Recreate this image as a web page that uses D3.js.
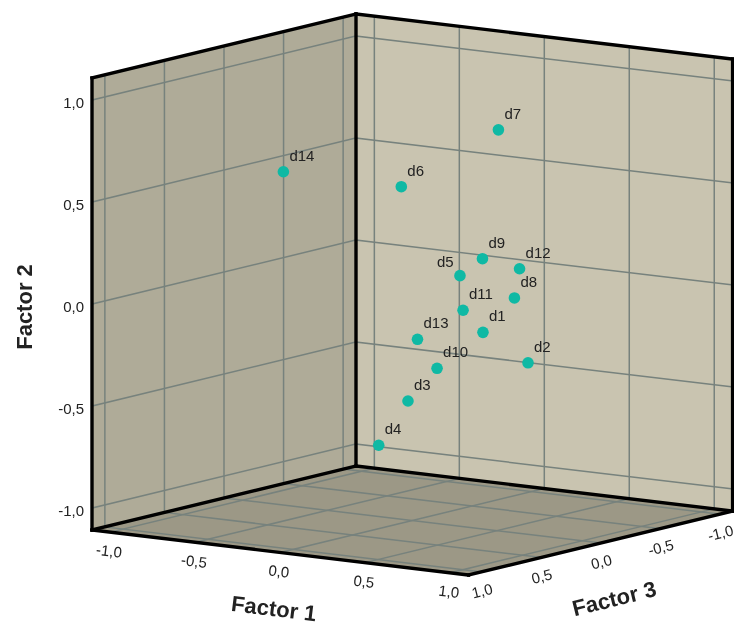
<!DOCTYPE html>
<html>
<head>
<meta charset="utf-8">
<script src="https://cdn.jsdelivr.net/npm/d3@7"></script>
<style>
html, body { margin: 0; padding: 0; background: #fff; }
svg { display: block; filter: blur(0.35px); }
text { font-family: "Liberation Sans", Arial, sans-serif; fill: #222; }
</style>
</head>
<body>
<div id="chart"></div>
<script>
var names    = ["d1", "d2", "d3", "d4", "d5", "d6", "d7", "d8", "d9", "d10", "d11", "d12", "d13", "d14"];
var factor1  = [0.556, 0.751, 0.255, 0.223, 0.631, 0.426, 0.717, 0.671, 0.553, 0.356, 0.579, 0.561, 0.381, -0.338];
var factor2  = [-0.102, -0.246, -0.440, -0.632, 0.226, 0.670, 0.921, 0.064, 0.259, -0.284, 0.037, 0.168, -0.111, 0.653];
var factor3  = [0.2, 0.1, 0.4, 0.6, 0.5, 0.7, 0.3, 0.1, 0.2, 0.3, 0.4, -0.1, 0.5, 0.6];
var tickValues = [-1, -0.5, 0, 0.5, 1];
var tickLabels = ["-1,0", "-0,5", "0,0", "0,5", "1,0"];

var width = 734, height = 626;
var lim = 1.108;

// each axis maps to screen shift away from the back bottom corner
var backX = 356, backY = 466;
var f1X = d3.scaleLinear().domain([-lim, lim]).range([0, 376.6]);
var f1Y = d3.scaleLinear().domain([-lim, lim]).range([0, 45]);
var f2Y = d3.scaleLinear().domain([-lim, lim]).range([0, -452]);
var f3X = d3.scaleLinear().domain([-lim, lim]).range([0, -264]);
var f3Y = d3.scaleLinear().domain([-lim, lim]).range([0, 64]);

function project(a, b, c) {
    return [backX + f1X(a) + f3X(c), backY + f1Y(a) + f2Y(b) + f3Y(c)];
}

var svg = d3.select("#chart").append("svg")
    .attr("width", width)
    .attr("height", height);

var pathOf = d3.line();

function wall(corners, color) {
    svg.append("path")
        .attr("d", pathOf(corners.map(function (c) { return project(c[0], c[1], c[2]); })) + "Z")
        .attr("fill", color);
}

// walls and floor
wall([[-lim, -lim, lim], [-lim, lim, lim], [-lim, lim, -lim], [-lim, -lim, -lim]], "#afab98");
wall([[-lim, -lim, -lim], [-lim, lim, -lim], [lim, lim, -lim], [lim, -lim, -lim]], "#c9c4b0");
wall([[-lim, -lim, lim], [-lim, -lim, -lim], [lim, -lim, -lim], [lim, -lim, lim]], "#9c9886");

function segment(g, p, q, color, w) {
    g.append("line")
        .attr("x1", p[0]).attr("y1", p[1])
        .attr("x2", q[0]).attr("y2", q[1])
        .attr("stroke", color)
        .attr("stroke-width", w)
        .attr("stroke-linecap", "square");
}

// grid lines
var grid = svg.append("g");
var gridColor = "#77827d";
tickValues.forEach(function (t) {
    segment(grid, project(-lim, -lim, t), project(-lim, lim, t), gridColor, 1.5);
    segment(grid, project(-lim, t, lim), project(-lim, t, -lim), gridColor, 1.5);
    segment(grid, project(t, -lim, -lim), project(t, lim, -lim), gridColor, 1.5);
    segment(grid, project(-lim, t, -lim), project(lim, t, -lim), gridColor, 1.5);
    segment(grid, project(t, -lim, lim), project(t, -lim, -lim), gridColor, 1.5);
    segment(grid, project(-lim, -lim, t), project(lim, -lim, t), gridColor, 1.5);
});

// box frame
var frame = svg.append("g");
[
    [[-lim, -lim, lim], [-lim, lim, lim]],
    [[-lim, lim, lim], [-lim, lim, -lim]],
    [[-lim, lim, -lim], [lim, lim, -lim]],
    [[-lim, -lim, -lim], [-lim, lim, -lim]],
    [[lim, -lim, -lim], [lim, lim, -lim]],
    [[-lim, -lim, lim], [-lim, -lim, -lim]],
    [[-lim, -lim, -lim], [lim, -lim, -lim]],
    [[-lim, -lim, lim], [lim, -lim, lim]],
    [[lim, -lim, lim], [lim, -lim, -lim]]
].forEach(function (e) {
    segment(frame, project(e[0][0], e[0][1], e[0][2]), project(e[1][0], e[1][1], e[1][2]), "#000", 3.4);
});

// tick labels
var ticks = svg.append("g").attr("font-size", 15);
tickValues.forEach(function (t, i) {
    var p = project(-lim, t, lim);
    ticks.append("text")
        .attr("x", p[0] - 8).attr("y", p[1] + 8)
        .attr("text-anchor", "end")
        .text(tickLabels[i]);

    p = project(t, -lim, lim);
    ticks.append("text")
        .attr("transform", "translate(" + (p[0] - 2) + "," + (p[1] + 24) + ") rotate(7)")
        .attr("text-anchor", "middle")
        .text(tickLabels[i]);

    p = project(lim, -lim, t);
    ticks.append("text")
        .attr("transform", "translate(" + (p[0] + 2) + "," + (p[1] + 24) + ") rotate(-14)")
        .attr("text-anchor", "middle")
        .text(tickLabels[i]);
});

// axis titles
function title(text, x, y, angle) {
    svg.append("text")
        .attr("transform", "translate(" + x + "," + y + ") rotate(" + angle + ")")
        .attr("text-anchor", "middle")
        .attr("font-size", 22)
        .attr("font-weight", "bold")
        .text(text);
}
title("Factor 1", 273, 616, 7);
title("Factor 2", 32, 307, -90);
title("Factor 3", 616, 606, -14);

// points
var rows = names.map(function (n, i) {
    return { name: n, pos: project(factor1[i], factor2[i], factor3[i]) };
});

svg.selectAll("circle.point")
    .data(rows)
    .enter().append("circle")
    .attr("class", "point")
    .attr("cx", function (d) { return d.pos[0]; })
    .attr("cy", function (d) { return d.pos[1]; })
    .attr("r", 5.8)
    .attr("fill", "#0fb9a4");

svg.selectAll("text.label")
    .data(rows)
    .enter().append("text")
    .attr("class", "label")
    .attr("x", function (d) { return d.pos[0] + (d.name === "d5" ? -23 : 6); })
    .attr("y", function (d) { return d.pos[1] + (d.name === "d5" ? -9 : -11); })
    .attr("font-size", 15)
    .text(function (d) { return d.name; });
</script>
</body>
</html>
